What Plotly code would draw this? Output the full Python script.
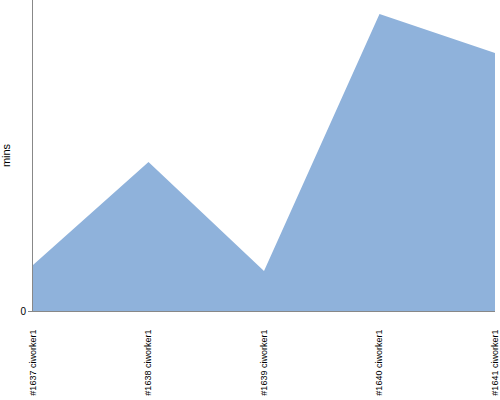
import plotly.graph_objects as go

categories = ["#1637 ciworker1", "#1638 ciworker1", "#1639 ciworker1", "#1640 ciworker1", "#1641 ciworker1"]
values = [4.6, 14.9, 4.0, 29.7, 25.8]

fig = go.Figure(go.Scatter(
    x=categories, y=values, mode="lines", fill="tozeroy",
    line=dict(width=0, color="#8fb2db"), fillcolor="#8fb2db",
))
fig.update_layout(
    width=500, height=400, margin=dict(l=33, r=5, t=0, b=89, autoexpand=False),
    plot_bgcolor="white", paper_bgcolor="white", showlegend=False,
    font=dict(family="Liberation Sans", color="black"),
)
fig.update_xaxes(
    type="category", range=[0, 4], showgrid=False, showline=True, linecolor="#888",
    linewidth=1, tickangle=-90, tickfont=dict(size=9), ticks="outside", ticklen=14,
    tickcolor="rgba(0,0,0,0)", zeroline=False, automargin=False,
)
fig.update_yaxes(
    range=[0, 31.1], showgrid=False, showline=True, linecolor="#888", linewidth=1,
    tickvals=[0], ticktext=["0"], ticks="outside", ticklen=4, tickcolor="#888",
    tickfont=dict(size=10), zeroline=False, automargin=False,
    title=dict(text="mins", font=dict(size=11), standoff=10),
)
fig.write_html("out.html", config={"displayModeBar": False},
               post_script="document.body.style.margin='0';")
